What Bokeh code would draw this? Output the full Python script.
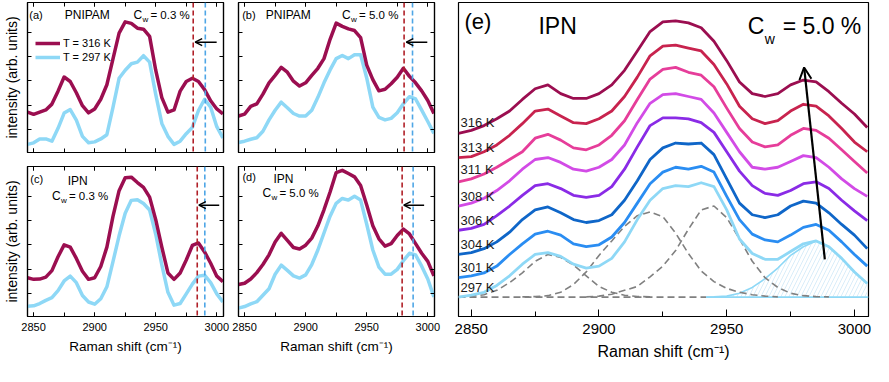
from bokeh.plotting import figure
from bokeh.layouts import row, column
from bokeh.models import (Range1d, LinearAxis, SingleIntervalTicker, FixedTicker,
                          CustomJSTickFormatter, Span, Arrow, OpenHead, Label,
                          Legend, LegendItem)
from bokeh.embed import file_html
from bokeh.resources import INLINE

FONT = "Liberation Sans"

# ---------------- data ----------------
x_grid = [2845, 2850, 2855, 2860, 2865, 2870, 2875, 2880, 2885, 2890, 2895,
          2900, 2905, 2910, 2915, 2920, 2925, 2930, 2935, 2940, 2945, 2950,
          2955, 2960, 2965, 2970, 2975, 2980, 2985, 2990, 2995, 3000, 3005]

# small panels, intensity (arb. units)
a_316 = [41.7, 39.4, 41.7, 44, 50, 63.4, 78, 73.4, 61.7, 48.4, 41, 45, 55, 70, 96.7, 123.4, 135,
         133.4, 128.4, 127.4, 120, 85, 56.7, 41.7, 44, 63.4, 73.4, 76.7, 73.4, 65, 53.4, 45, 40]
a_297 = [8.4, 10, 14, 14, 11.7, 25, 40.7, 44.4, 33.4, 16.7, 10, 11, 14, 18.4, 46.7, 76.7, 85,
         91.7, 93.4, 100, 93.4, 60, 30, 16.7, 8.4, 11.7, 19.4, 26, 43.4, 55, 46.7, 26.7, 15]
b_316 = [37.7, 39.7, 47.7, 50.3, 60.3, 72, 79.7, 88, 83, 73.7, 68.7, 72, 79.7, 87, 97, 117, 133.7,
         130.3, 127.7, 126, 118.7, 90.3, 75.3, 63.7, 65.3, 71, 77.7, 87, 78.7, 72, 63.7, 53.7, 40.3]
b_297 = [10.3, 11.7, 13.7, 15.3, 22, 33.7, 43.7, 52, 46.3, 40.3, 37.7, 37.7, 43.7, 57, 72, 85.3, 97,
         100.3, 97, 101, 101, 77, 47, 36.3, 33.7, 35.3, 41, 50.3, 57.7, 55.3, 43.7, 32, 19.7]
c_316 = [40, 38.4, 38.7, 40.7, 47.4, 61.7, 74, 71.7, 60, 46.7, 38.4, 40, 51.7, 71.7, 103.4, 130, 143.4,
         144, 138.4, 133.4, 123.4, 100, 71.7, 45, 38.4, 45, 58.4, 73.4, 76, 66.7, 55, 41.7, 36]
c_297 = [10.7, 11, 13.4, 16.7, 19.4, 26.7, 36.7, 41.7, 35, 21.7, 15, 12.7, 18.4, 30.7, 56.7, 83.4, 106.7,
         120, 120.7, 116.7, 110, 85, 53.4, 25, 11.7, 13.4, 23.4, 33.4, 41.7, 42.7, 35, 23.4, 15]
d_316 = [33, 34.3, 38.7, 45.3, 53.7, 63.7, 77, 86, 78.7, 71.3, 69.7, 73.7, 81, 93.7, 110.3, 128.7, 148.7,
         151, 147.7, 144.3, 135.3, 115.3, 93.7, 80.3, 72.7, 75.3, 83.7, 90.3, 85.3, 75.3, 65.3, 57, 42]
d_297 = [8.7, 10.3, 13, 15.3, 22, 28.7, 43.7, 53, 47.7, 42, 39.7, 43, 53.7, 68.7, 86.3, 103.7, 117,
         122, 120.3, 124.3, 120.3, 95.3, 68.7, 51, 43.7, 43.7, 48.7, 57.7, 65.3, 63.7, 52, 38.7, 20.3]

# peak positions of the ~2985 band (dashed markers) for 316 K / 297 K, panels a-d
peak_316 = [2980.7, 2980.6, 2984.0, 2979.0]
peak_297 = [2990.6, 2987.5, 2990.2, 2988.0]

# panel (e): stacked spectra, Cw = 5.0 %
temps = ["316 K", "313 K", "311 K", "308 K", "306 K", "304 K", "301 K", "297 K"]
e_316 = [189, 192, 197, 204, 212, 224, 235, 239, 230, 225, 225, 230, 239, 254, 274, 294, 304,
         305, 303, 298, 284, 264, 242, 230, 227, 230, 239, 244, 242, 232, 220, 209, 195]
e_313 = [164, 165, 170, 177, 187, 199, 212, 214, 207, 200, 199, 204, 212, 227, 247, 269, 279,
         280, 277, 274, 260, 240, 217, 204, 199, 202, 212, 219, 217, 207, 194, 180, 170]
e_311 = [139, 142, 147, 154, 162, 170, 184, 188, 182, 174, 172, 177, 187, 202, 224, 245, 255,
         257, 252, 249, 237, 215, 194, 180, 175, 177, 187, 194, 192, 184, 172, 160, 148]
e_308 = [114, 117, 122, 130, 140, 152, 162, 164, 159, 152, 150, 154, 162, 177, 200, 220, 229,
         230, 227, 224, 210, 190, 170, 154, 152, 154, 160, 166, 164, 154, 142, 132, 124]
e_306 = [89, 91, 95, 104, 114, 125, 135, 137, 132, 125, 123, 125, 134, 152, 175, 197, 205,
         205, 204, 200, 190, 170, 150, 135, 127, 125, 130, 137, 139, 132, 120, 109, 99]
e_304 = [64, 66, 70, 77, 87, 100, 110, 113, 107, 100, 97, 99, 105, 120, 140, 162, 174,
         179, 178, 179, 167, 142, 117, 105, 102, 105, 114, 119, 117, 107, 95, 84, 70]
e_301 = [40, 42, 45, 52, 64, 75, 85, 88, 84, 75, 72, 74, 82, 97, 117, 137, 149,
         154, 152, 155, 149, 124, 100, 85, 79, 77, 84, 92, 95, 89, 77, 64, 52]
e_297 = [20, 22, 25, 32, 42, 54, 64, 66, 62, 54, 50, 52, 60, 77, 100, 120, 132,
         135, 134, 138, 134, 110, 80, 65, 59, 59, 67, 75, 78, 72, 60, 46, 34]
temp_label_y = [200, 174, 152, 124, 99, 74, 51, 30]

e_base = 20
g1_x = [2845, 2850, 2855, 2860, 2865, 2870, 2875, 2880, 2885, 2890, 2895, 2900, 2905, 2910, 2915, 2920]
g1_y = [20.3, 21, 22.5, 27, 35, 45, 57, 64, 61, 53, 42, 31, 25, 22, 20.7, 20.2]
g2_x = [2870, 2875, 2880, 2885, 2890, 2895, 2900, 2905, 2910, 2915, 2920, 2925, 2930, 2935, 2940,
        2945, 2950, 2955, 2960, 2965, 2970]
g2_y = [20.2, 20.5, 21.5, 25, 33, 46, 63, 78, 93, 104, 108, 103, 86, 65, 47, 36, 29, 25, 22.5, 21, 20.3]
g3_x = [2895, 2900, 2905, 2910, 2915, 2920, 2925, 2930, 2935, 2940, 2945, 2950, 2955, 2960, 2965,
        2970, 2975, 2980, 2985, 2990]
g3_y = [20.3, 21, 23, 27, 31, 41, 52, 68, 90, 110, 114, 102, 80, 57, 40, 30, 24, 21.5, 20.5, 20.2]
g4_x = [2942, 2945, 2950, 2955, 2960, 2965, 2970, 2975, 2980, 2985, 2990, 2995, 3000, 3005]
g4_y = [20, 20.3, 21, 24, 30, 39, 50, 63, 72, 78, 72, 60, 46, 34]

# ---------------- styles ----------------
MAROON = "#9b0e50"
LIGHT = "#8ed8f6"
E_COLORS = ["#9b0e50", "#c8234e", "#e63d9a", "#d24be6", "#8a2be6", "#0f66c8", "#2a8df2", "#8ed8f6"]
XR = (2845, 3005.5)


def add_axis(p, side, ticker, tick_in, minor_in, labels, label_text=None,
             label_size="11px", axis_label_size="13.5px", label_standoff=4,
             axis_label_standoff=3):
    ax = LinearAxis(ticker=ticker)
    ax.major_tick_in = tick_in
    ax.major_tick_out = 0
    ax.minor_tick_in = minor_in
    ax.minor_tick_out = 0
    ax.axis_line_color = "black"
    ax.axis_line_width = 1.2
    ax.major_tick_line_color = "black"
    ax.minor_tick_line_color = "black"
    if labels:
        ax.major_label_text_font = FONT
        ax.major_label_text_font_size = label_size
        ax.major_label_text_color = "black"
        ax.major_label_standoff = label_standoff
    else:
        ax.formatter = CustomJSTickFormatter(code="return ''")
        ax.major_label_text_font_size = "0px"
        ax.major_label_standoff = 0
    if label_text:
        ax.axis_label = label_text
        ax.axis_label_text_font = FONT
        ax.axis_label_text_font_size = axis_label_size
        ax.axis_label_text_font_style = "normal"
        ax.axis_label_text_color = "black"
        ax.axis_label_standoff = axis_label_standoff
    p.add_layout(ax, side)
    return ax


def base_fig(fw, fh, yr, left, right, top, bottom):
    p = figure(frame_width=fw, frame_height=fh, x_range=Range1d(*XR), y_range=Range1d(*yr),
               output_backend="svg", toolbar_location=None,
               x_axis_location=None, y_axis_location=None,
               min_border_left=left, min_border_right=right,
               min_border_top=top, min_border_bottom=bottom)
    p.outline_line_color = "black"
    p.outline_line_width = 1.2
    p.background_fill_color = "white"
    p.border_fill_color = "white"
    for g in p.grid:
        g.visible = False
    return p


def lbl(p, x, y, text, size, xo=0, align="left"):
    p.add_layout(Label(x=x, y=y, x_offset=xo, text=text, text_font=FONT, text_font_size=size,
                       text_color="black", text_baseline="middle", text_align=align))


def small_panel(idx, y316, y297, bottom_row, first_col, tag, name, cw, pos):
    p = base_fig(196, 150, (0, 155),
                 26 if first_col else 8, 7 if first_col else 8,
                 2 if not bottom_row else 7, 50 if bottom_row else 7)
    xt = SingleIntervalTicker(interval=50, num_minor_ticks=2)
    yt = FixedTicker(ticks=[24, 49, 74, 99, 124])
    add_axis(p, "below", xt, 4, 4, bottom_row,
             "Raman shift (cm\u207b\u00b9)" if bottom_row else None,
             label_standoff=6, axis_label_standoff=5)
    add_axis(p, "above", xt, 4, 4, False)
    add_axis(p, "left", yt, 4, 0, False,
             "intensity (arb. units)" if first_col else None,
             axis_label_size="14px", axis_label_standoff=8)
    add_axis(p, "right", yt, 4, 0, False)

    r297 = p.line(x_grid, y297, line_color=LIGHT, line_width=3.5, line_join="round")
    r316 = p.line(x_grid, y316, line_color=MAROON, line_width=3.5, line_join="round")

    p.add_layout(Span(location=peak_316[idx], dimension="height", line_color="#b02028",
                      line_dash="5 3", line_width=1.6))
    p.add_layout(Span(location=peak_297[idx], dimension="height", line_color="#4ea6e6",
                      line_dash="5 3", line_width=1.6))

    ax0, ax1, ay = pos["arrow"]
    p.add_layout(Arrow(end=OpenHead(size=7, line_width=1.4, line_color="black"),
                       x_start=ax0, y_start=ay, x_end=ax1, y_end=ay,
                       line_width=1.4, line_color="black"))

    tx, ty = pos["tag"]
    lbl(p, tx, ty, tag, "11px")
    nx, ny = pos["name"]
    lbl(p, nx, ny, name, "12px")
    cx, cy = pos["cw"]
    lbl(p, cx, cy, "C", "12px")
    lbl(p, cx, cy - 4.5, "w", "8px", xo=9)
    lbl(p, cx, cy, "= " + cw + " %", "11.5px", xo=17)

    if idx == 0:
        leg = Legend(items=[LegendItem(label="T = 316 K", renderers=[r316]),
                            LegendItem(label="T = 297 K", renderers=[r297])],
                     location=(8, 88), border_line_color=None, background_fill_alpha=0,
                     padding=0, margin=0, spacing=0, glyph_width=25, glyph_height=14,
                     label_height=14, label_standoff=3, label_text_font=FONT,
                     label_text_font_size="11px", label_text_color="black")
        p.add_layout(leg)
    return p


fa = small_panel(0, a_316, a_297, False, True, "(a)", "PNIPAM", "0.3",
                 {"arrow": (2999.9, 2982.3, 114), "tag": (2846.5, 141.7),
                  "name": (2875.5, 141.7), "cw": (2931.7, 141.7)})
fb = small_panel(1, b_316, b_297, False, False, "(b)", "PNIPAM", "5.0",
                 {"arrow": (2999.6, 2982.4, 114), "tag": (2848.0, 142.5),
                  "name": (2867.3, 142.0), "cw": (2929.8, 142.0)})
fc = small_panel(2, c_316, c_297, True, True, "(c)", "IPN", "0.3",
                 {"arrow": (3002.0, 2985.3, 115), "tag": (2847.3, 141.7),
                  "name": (2877.9, 140.0), "cw": (2865.0, 124.5)})
fd = small_panel(3, d_316, d_297, True, False, "(d)", "IPN", "5.0",
                 {"arrow": (2997.0, 2980.3, 115), "tag": (2848.2, 144.0),
                  "name": (2873.6, 142.5), "cw": (2864.6, 127.5)})

# ---------------- panel (e) ----------------
fe = base_fig(410, 314, (0, 324), 16, 5, 2, 50)
add_axis(fe, "below", SingleIntervalTicker(interval=50, num_minor_ticks=2), 7, 5, True,
         "Raman shift (cm\u207b\u00b9)", label_size="15px", axis_label_size="16px",
         label_standoff=7, axis_label_standoff=6)

fe.varea(x=g4_x, y1=e_base, y2=g4_y, fill_alpha=0, hatch_pattern="/",
         hatch_color="#bfe1f5", hatch_scale=8, hatch_weight=0.6)
fe.line([XR[0], g4_x[0]], [e_base, e_base], line_color="#808080", line_dash="7 4", line_width=1.6)
fe.line([g4_x[0], XR[1]], [e_base, e_base], line_color=LIGHT, line_width=1.8)
fe.line(g4_x, g4_y, line_color=LIGHT, line_width=1.6)
for gx, gy in ((g1_x, g1_y), (g2_x, g2_y), (g3_x, g3_y)):
    fe.line(gx, gy, line_color="#808080", line_dash="7 4", line_width=1.6)

series_e = [e_316, e_313, e_311, e_308, e_306, e_304, e_301, e_297]
for ys, col in reversed(list(zip(series_e, E_COLORS))):
    fe.line(x_grid, ys, line_color=col, line_width=2.8, line_join="round")

for t, ty in zip(temps, temp_label_y):
    fe.add_layout(Label(x=2845.8, y=ty, text=t, text_font=FONT, text_font_size="13px",
                        text_color="#1a1a1a", text_baseline="middle"))

fe.add_layout(Arrow(end=OpenHead(size=12, line_width=2, line_color="black"),
                    x_start=2988.4, y_start=59, x_end=2980.3, y_end=257,
                    line_width=2.2, line_color="black"))

lbl(fe, 2847.3, 304.5, "(e)", "22px")
lbl(fe, 2876.3, 299.5, "IPN", "23px")
lbl(fe, 2958.2, 299.5, "C", "23px")
lbl(fe, 2958.2, 286.0, "w", "14px", xo=17)
lbl(fe, 2958.2, 299.5, "= 5.0 %", "23px", xo=35)

layout = row(column(row(fa, fb), row(fc, fd)), fe)
open("out.html", "w").write(file_html(layout, INLINE))
